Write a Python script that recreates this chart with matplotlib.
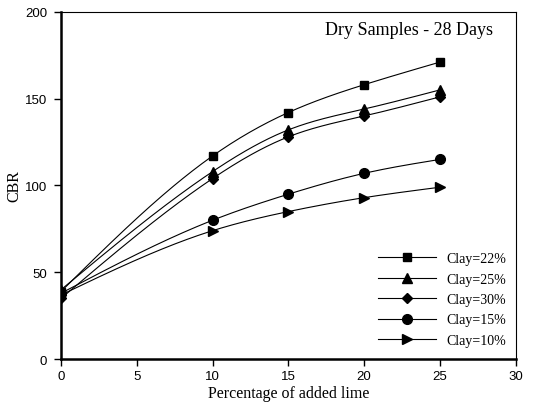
import numpy as np
import matplotlib.pyplot as plt

# CBR of dry samples after 28 days vs. lime content
lime = [0, 10, 15, 20, 25]
labels = ["Clay=22%", "Clay=25%", "Clay=30%", "Clay=15%", "Clay=10%"]
clay22 = [39, 117, 142, 158, 171]
clay25 = [40, 108, 132, 144, 155]
clay30 = [35, 104, 128, 140, 151]
clay15 = [38, 80, 95, 107, 115]
clay10 = [37, 74, 85, 93, 99]

series = [clay22, clay25, clay30, clay15, clay10]
markers = ["s", "^", "D", "o", ">"]
msizes = [6, 7, 5.5, 7, 7]


def smooth(x, y, steps=200):
    # natural cubic spline through the points (drawing only)
    x = np.asarray(x, float)
    y = np.asarray(y, float)
    n = len(x)
    h = np.diff(x)
    A = np.zeros((n, n))
    r = np.zeros(n)
    A[0, 0] = A[-1, -1] = 1
    for i in range(1, n - 1):
        A[i, i - 1] = h[i - 1]
        A[i, i] = 2 * (h[i - 1] + h[i])
        A[i, i + 1] = h[i]
        r[i] = 6 * ((y[i + 1] - y[i]) / h[i] - (y[i] - y[i - 1]) / h[i - 1])
    M = np.linalg.solve(A, r)
    xs = np.linspace(x[0], x[-1], steps)
    k = np.clip(np.searchsorted(x, xs) - 1, 0, n - 2)
    a = x[k + 1] - xs
    b = xs - x[k]
    hk = h[k]
    ys = (M[k] * a ** 3 + M[k + 1] * b ** 3) / (6 * hk) \
        + (y[k] / hk - M[k] * hk / 6) * a + (y[k + 1] / hk - M[k + 1] * hk / 6) * b
    return xs, ys


fig = plt.figure(figsize=(5.46, 4.06), dpi=100)
ax = fig.add_axes([0.1117, 0.1126, 0.8328, 0.8561])

for vals, m, ms, lab in zip(series, markers, msizes, labels):
    sx, sy = smooth(lime, vals)
    ax.plot(sx, sy, color="black", linewidth=0.8)
    ax.plot(lime, vals, linestyle="none", marker=m, markersize=ms, color="black")
    # legend proxy: line through the marker
    ax.plot([], [], color="black", linewidth=0.8, marker=m, markersize=ms, label=lab)

ax.set_xlim(0, 30)
ax.set_ylim(0, 200)
ax.set_xticks([0, 5, 10, 15, 20, 25, 30])
ax.set_yticks([0, 50, 100, 150, 200])
ax.tick_params(direction="out", length=5, width=1, labelsize=9.5, pad=3)
ax.tick_params(axis="y", pad=5)
for lbl in ax.get_xticklabels() + ax.get_yticklabels():
    lbl.set_family("Liberation Sans")

ax.spines["left"].set_linewidth(1.8)
ax.spines["bottom"].set_linewidth(1.8)
ax.spines["top"].set_linewidth(0.8)
ax.spines["right"].set_linewidth(0.8)

serif = {"family": "Liberation Serif", "size": 11.5}
ax.set_xlabel("Percentage of added lime", fontdict=serif, labelpad=2)
ax.set_ylabel("CBR", fontdict=serif, labelpad=2)

ax.text(0.949, 0.95, "Dry Samples - 28 Days", transform=ax.transAxes,
        ha="right", va="center", family="Liberation Serif", fontsize=13)

h, l = [], []
for line in ax.get_lines():
    if line.get_label() in labels:
        h.append(line)
        l.append(line.get_label())
ax.legend(h, l, loc="lower right", bbox_to_anchor=(1.0, 0.008), frameon=False,
          prop={"family": "Liberation Serif", "size": 10},
          handlelength=4.2, handletextpad=0.72, labelspacing=0.53, borderaxespad=0.3)

fig.savefig("out.png", dpi=100)
